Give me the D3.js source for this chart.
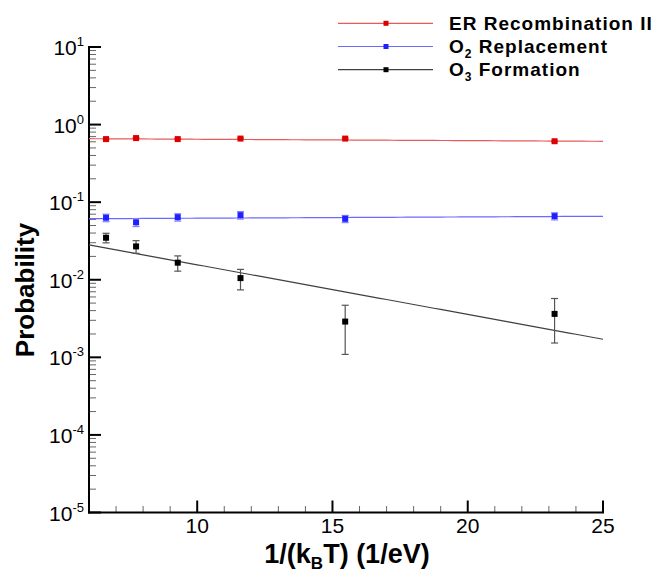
<!DOCTYPE html>
<html>
<head>
<meta charset="utf-8">
<script src="https://cdn.jsdelivr.net/npm/d3@7"></script>
<style>
  html, body { margin: 0; padding: 0; background: #fff; }
  svg { display: block; font-family: "Liberation Sans", Arial, Helvetica, sans-serif; }
</style>
</head>
<body>
<svg id="chart" width="658" height="578"></svg>
<script>
// ---------- data ----------
const invKT = [6.63, 7.74, 9.28, 11.60, 15.47, 23.21];           // 1/(kB T) in 1/eV
const erProb = [0.65, 0.67, 0.65, 0.66, 0.66, 0.61];             // ER Recombination II
const erErr  = [0.012, 0.012, 0.012, 0.012, 0.012, 0.012];
const o2Prob = [0.063, 0.055, 0.064, 0.068, 0.061, 0.066];       // O2 Replacement
const o2Err  = [0.007, 0.0065, 0.007, 0.0075, 0.0065, 0.007];
const o3Prob = [0.0348, 0.0269, 0.0166, 0.0105, 0.00289, 0.00363]; // O3 Formation
const o3Err  = [0.0049, 0.0050, 0.0037, 0.0031, 0.0018, 0.0021];
// Arrhenius fits P = A * exp(-Ea * x)
const fitA  = [0.674, 0.0598, 0.0680];
const fitEa = [0.00407, -0.00381, 0.1473];
const seriesNames = ["ER Recombination II", "O2 Replacement", "O3 Formation"];
const xTickValues = [10, 15, 20, 25];
const yTickExponents = [-5, -4, -3, -2, -1, 0, 1];

// ---------- styles ----------
const markerColors = ["#dd0000", "#1f1fff", "#000000"];
const lineColors   = ["#e85a5a", "#6a6aff", "#404040"];
const errColors    = ["#e85a5a", "#8080ff", "#555555"];

const svg = d3.select("#chart");
const x = d3.scaleLinear().domain([6, 25]).range([89, 603]);
const y = d3.scaleLog().domain([1e-5, 10]).range([512.5, 47]);

const series = [
  { vals: erProb, err: erErr },
  { vals: o2Prob, err: o2Err },
  { vals: o3Prob, err: o3Err }
];

// ---------- axes ----------
const axes = svg.append("g");
// minor y ticks
const minorY = [];
for (let e = -5; e < 1; e++) for (let m = 2; m <= 9; m++) minorY.push(m * Math.pow(10, e));
axes.selectAll("line.ymin").data(minorY).join("line")
  .attr("x1", 89).attr("x2", 96)
  .attr("y1", d => y(d)).attr("y2", d => y(d))
  .attr("stroke", "#666").attr("stroke-width", 1);
axes.selectAll("line.ymaj").data(yTickExponents).join("line")
  .attr("x1", 89).attr("x2", 101)
  .attr("y1", d => y(Math.pow(10, d))).attr("y2", d => y(Math.pow(10, d)))
  .attr("stroke", "#000").attr("stroke-width", 2);
// minor x ticks
const minorX = d3.range(7, 25).filter(v => v % 5 !== 0);
axes.selectAll("line.xmin").data(minorX).join("line")
  .attr("x1", d => x(d)).attr("x2", d => x(d))
  .attr("y1", 512.5).attr("y2", 506)
  .attr("stroke", "#666").attr("stroke-width", 1);
axes.selectAll("line.xmaj").data(xTickValues).join("line")
  .attr("x1", d => x(d)).attr("x2", d => x(d))
  .attr("y1", 512.5).attr("y2", 500.5)
  .attr("stroke", "#000").attr("stroke-width", 2);
// axis lines
axes.append("line").attr("x1", 89).attr("x2", 89).attr("y1", 46).attr("y2", 513.5)
  .attr("stroke", "#000").attr("stroke-width", 2);
axes.append("line").attr("x1", 88).attr("x2", 604).attr("y1", 512.5).attr("y2", 512.5)
  .attr("stroke", "#000").attr("stroke-width", 2);

// y tick labels
const yl = axes.selectAll("text.yl").data(yTickExponents).join("text")
  .attr("x", 84).attr("y", d => y(Math.pow(10, d)) + 8)
  .attr("text-anchor", "end").attr("font-size", 21).attr("fill", "#000");
yl.append("tspan").text("10");
yl.append("tspan").attr("font-size", 13).attr("dy", -9).text(d => d < 0 ? "-" + Math.abs(d) : String(d));

// x tick labels
axes.selectAll("text.xl").data(xTickValues).join("text")
  .attr("x", d => x(d)).attr("y", 533)
  .attr("text-anchor", "middle").attr("font-size", 21).attr("fill", "#000")
  .text(d => d);

// axis titles
const xt = svg.append("text").attr("x", 347).attr("y", 563)
  .attr("text-anchor", "middle").attr("font-size", 27).attr("font-weight", "bold");
xt.append("tspan").text("1/(k");
xt.append("tspan").attr("font-size", 17).attr("dy", 6).text("B");
xt.append("tspan").attr("dy", -6).text("T) (1/eV)");

svg.append("text").attr("transform", "translate(34,290) rotate(-90)")
  .attr("text-anchor", "middle").attr("font-size", 26).attr("font-weight", "bold")
  .text("Probability");

// ---------- fit lines ----------
const fitX = d3.range(6, 25.001, 0.25);
const lineGen = d3.line().x(d => x(d[0])).y(d => y(d[1]));
fitA.forEach((A, i) => {
  svg.append("path")
    .attr("d", lineGen(fitX.map(v => [v, A * Math.exp(-fitEa[i] * v)])))
    .attr("fill", "none").attr("stroke", lineColors[i]).attr("stroke-width", 1.2);
});

// ---------- error bars & markers ----------
series.forEach((s, i) => {
  const g = svg.append("g");
  const pts = invKT.map((xv, j) => ({ x: xv, v: s.vals[j], e: s.err[j] }));
  g.selectAll("line.eb").data(pts).join("line")
    .attr("x1", d => x(d.x)).attr("x2", d => x(d.x))
    .attr("y1", d => y(d.v + d.e)).attr("y2", d => y(d.v - d.e))
    .attr("stroke", errColors[i]).attr("stroke-width", 1.2);
  ["top", "bot"].forEach(k => {
    g.selectAll("line.cap" + k).data(pts).join("line")
      .attr("x1", d => x(d.x) - 3.5).attr("x2", d => x(d.x) + 3.5)
      .attr("y1", d => y(k === "top" ? d.v + d.e : d.v - d.e))
      .attr("y2", d => y(k === "top" ? d.v + d.e : d.v - d.e))
      .attr("stroke", errColors[i]).attr("stroke-width", 1.2);
  });
  g.selectAll("rect").data(pts).join("rect")
    .attr("x", d => x(d.x) - 3).attr("y", d => y(d.v) - 3)
    .attr("width", 6).attr("height", 6)
    .attr("fill", markerColors[i]);
});

// ---------- legend ----------
const legY = [23.3, 46.5, 69.7];
const leg = svg.append("g");
seriesNames.forEach((name, i) => {
  leg.append("line").attr("x1", 338).attr("x2", 433).attr("y1", legY[i]).attr("y2", legY[i])
    .attr("stroke", lineColors[i]).attr("stroke-width", 1.2);
  leg.append("rect").attr("x", 383.5).attr("y", legY[i] - 2.5).attr("width", 5).attr("height", 5)
    .attr("fill", markerColors[i]);
  const t = leg.append("text").attr("x", 449).attr("y", legY[i] + 6.5)
    .attr("font-size", 19).attr("font-weight", "bold").attr("letter-spacing", 1);
  if (name.startsWith("O2") || name.startsWith("O3")) {
    t.append("tspan").text("O");
    t.append("tspan").attr("font-size", 12).attr("dy", 5).text(name.charAt(1));
    t.append("tspan").attr("dy", -5).text(name.slice(2));
  } else {
    t.text(name);
  }
});
</script>
</body>
</html>
